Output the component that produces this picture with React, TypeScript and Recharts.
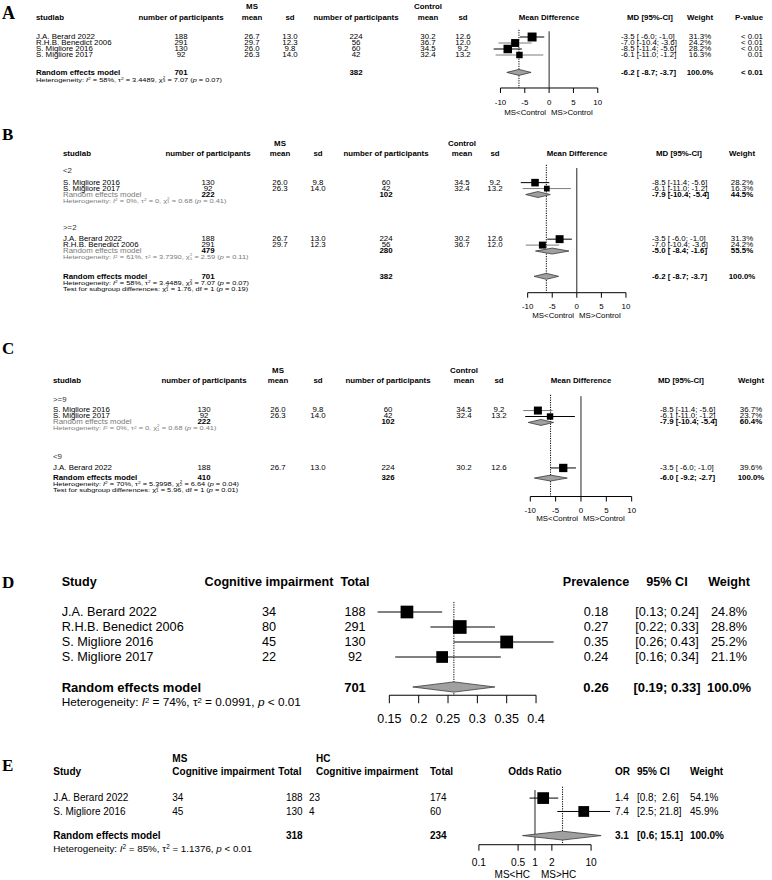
import React from 'react';
import { ScatterChart, Scatter, XAxis, YAxis, ReferenceLine } from 'recharts';

const FONT = '"Liberation Sans", Arial, Helvetica, sans-serif';
const SERIF = '"Liberation Serif", "Times New Roman", serif';

// ---- study data, panels A-C (MS vs control, mean difference) ----
const STUDY = ['J.A. Berard 2022', 'R.H.B. Benedict 2006', 'S. Migliore 2016', 'S. Migliore 2017'];
const MS_N = [188, 291, 130, 92];
const MS_MEAN = [26.7, 29.7, 26.0, 26.3];
const MS_SD = [13.0, 12.3, 9.8, 14.0];
const CTRL_N = [224, 56, 60, 42];
const CTRL_MEAN = [30.2, 36.7, 34.5, 32.4];
const CTRL_SD = [12.6, 12.0, 9.2, 13.2];
const MD = [-3.5, -7.0, -8.5, -6.1];
const MD_LO = [-6.0, -10.4, -11.4, -11.0];
const MD_HI = [-1.0, -3.6, -5.6, -1.2];
const WEIGHT = [31.3, 24.2, 28.2, 16.3];
const PVAL = ['< 0.01', '< 0.01', '< 0.01', '0.01'];
const TICKS_MD = [-10, -5, 0, 5, 10];

// overall pooled A / B
const POOLED_AB = [-6.2, -8.7, -3.7];
const TOTAL_AB = [701, 382];
const POOLED_P = '< 0.01';
const HET_AB = ['58%', '3.4489', '3', '7.07', '0.07'];

// B: subgroups
const GROUPS_B = ['<2', '>=2'];
const MEMBERS_B = [[2, 3], [0, 1]];
const GROUP_MD_B = [[-7.9, -10.4, -5.4], [-5.0, -8.4, -1.6]];
const GROUP_N_B = [[222, 102], [479, 280]];
const GROUP_W_B = [44.5, 55.5];
const GROUP_HET_B = [['0%', '0', '1', '0.68', '0.41'], ['61%', '3.7390', '1', '2.59', '0.11']];
const TEST_B = ['1', '1.76', '1', '0.19'];

// C: subgroups
const GROUPS_C = ['>=9', '<9'];
const MEMBERS_C = [[2, 3], [0]];
const WEIGHT_C = [[36.7, 23.7], [39.6]];
const GROUP_MD_C = [[-7.9, -10.4, -5.4]];
const GROUP_N_C = [[222, 102]];
const GROUP_W_C = [60.4];
const GROUP_HET_C = [['0%', '0', '1', '0.68', '0.41']];
const POOLED_C = [-6.0, -9.2, -2.7];
const TOTAL_C = [410, 326];
const HET_C = ['70%', '5.3998', '2', '6.64', '0.04'];
const TEST_C = ['1', '5.96', '1', '0.01'];

// D: prevalence
const CI_EVENTS = [34, 80, 45, 22];
const CI_TOTAL = [188, 291, 130, 92];
const PREV = [0.18, 0.27, 0.35, 0.24];
const PREV_LO = [0.13, 0.22, 0.26, 0.16];
const PREV_HI = [0.24, 0.33, 0.43, 0.34];
const PREV_W = [24.8, 28.8, 25.2, 21.1];
const PREV_POOLED = [0.26, 0.19, 0.33];
const PREV_TOTAL = 701;
const HET_D = ['74%', '0.0991', '< 0.01'];
const TICKS_PREV = [0.15, 0.2, 0.25, 0.3, 0.35, 0.4];

// E: odds ratio
const OR_STUDY = ['J.A. Berard 2022', 'S. Migliore 2016'];
const OR_MS_EV = [34, 45];
const OR_MS_TOT = [188, 130];
const OR_HC_EV = [23, 4];
const OR_HC_TOT = [174, 60];
const OR_EST = [1.4, 7.4];
const OR_LO = [0.8, 2.5];
const OR_HI = [2.6, 21.8];
const OR_W = [54.1, 45.9];
const OR_POOLED = [3.1, 0.6, 15.1];
const OR_TOTAL = [318, 234];
const HET_E = ['85%', '1.1376', '< 0.01'];
const TICKS_OR = [0.1, 0.5, 1, 2, 10];

// ---- layout ----
const AX_A = { t0: -10, p0: 500, t1: 10, p1: 597.3, domain: [-14, 14], ticks: TICKS_MD };
const AX_B = { t0: -10, p0: 527.7, t1: 10, p1: 626, domain: [-14, 14], ticks: TICKS_MD };
const AX_C = { t0: -10, p0: 530, t1: 10, p1: 631.4, domain: [-14, 14], ticks: TICKS_MD };
const AX_D = { t0: 0.15, p0: 389.3, t1: 0.4, p1: 536, domain: [0.1, 0.47], ticks: TICKS_PREV };
const AX_E = { t0: 0.1, p0: 478.8, t1: 10, p1: 591, log: true, domain: [0.05, 40], ticks: TICKS_OR };

const LAY_A = { y0: 37.3, rh: 6.0, upper: -5.1, head: -3.15, study: 36, msN: 180.5, msMean: 252, msSd: 290, ctN: 355.5, ctMean: 427.5, ctSd: 462.5, ci: 620.7, ciHead: 650, wt: 700, p: 763.3 };
const LAY_B = { y0: 171, rh: 5.95, upper: -4.5, head: -2.8, study: 62.7, msN: 208, msMean: 280, msSd: 317.5, ctN: 386, ctMean: 461.7, ctSd: 495, ci: 651.7, ciHead: 679, wt: 742 };
const LAY_C = { y0: 400, rh: 5.95, upper: -4.9, head: -3.2, study: 53.3, msN: 203.5, msMean: 278.3, msSd: 318.3, ctN: 388, ctMean: 463.5, ctSd: 498.5, ci: 660, ciHead: 681, wt: 750.5 };

// the small tables are drawn a little wider than tall, like the source
const SM = { s: 6.4, sx: 1.23 };
const SMALL = { s: 6.0, sx: 1.23 };
const GRAY = '#7a7a7a';

function px(ax: any, v: number) {
  const t = (u: number) => (ax.log ? Math.log10(u) : u);
  return ax.p0 + ((t(v) - t(ax.t0)) / (t(ax.t1) - t(ax.t0))) * (ax.p1 - ax.p0);
}

function T({ x, y, a = 'start', s = 7, b = false, c = '#000', sx = 1, f = FONT, children }: any) {
  const inner: React.CSSProperties = {
    position: 'absolute', top: 0, whiteSpace: 'pre', lineHeight: 1, fontSize: s,
    fontWeight: b ? 700 : 400, color: c, fontFamily: f,
    transform: a === 'middle' ? 'translate(-50%,-50%)' : 'translateY(-50%)',
  };
  if (a === 'end') inner.right = 0; else inner.left = 0;
  return (
    <div style={{ position: 'absolute', left: x, top: y, width: 0, height: 0, transform: `scaleX(${sx})`, transformOrigin: '0 0' }}>
      <span style={inner}>{children}</span>
    </div>
  );
}

const Sup = ({ children }: any) => (
  <span style={{ fontSize: '0.65em', position: 'relative', top: '-0.45em' }}>{children}</span>
);
const Chi = ({ df }: any) => (
  <>
    χ
    <span style={{ display: 'inline-block', position: 'relative', width: '0.6em', height: 0, fontSize: '0.6em' }}>
      <span style={{ position: 'absolute', left: 0, top: '-1.35em', lineHeight: 1 }}>2</span>
      <span style={{ position: 'absolute', left: 0, top: '-0.45em', lineHeight: 1 }}>{df}</span>
    </span>
  </>
);
const HetMD = ({ v }: any) => (
  <>Heterogeneity: <i>I</i><Sup>2</Sup> = {v[0]}, τ<Sup>2</Sup> = {v[1]}, <Chi df={v[2]} /> = {v[3]} (<i>p</i> = {v[4]})</>
);
const TestSub = ({ v }: any) => (
  <>Test for subgroup differences: <Chi df={v[0]} /> = {v[1]}, df = {v[2]} (<i>p</i> = {v[3]})</>
);
const HetP = ({ v }: any) => (
  <>Heterogeneity: <i>I</i><Sup>2</Sup> = {v[0]}, τ<Sup>2</Sup> = {v[1]}, <i>p</i> {v[2]}</>
);

const f1 = (v: number) => v.toFixed(1);
const mdCI = (m: number, lo: number, hi: number) => `${f1(m)} [${f1(lo).padStart(5)}; ${f1(hi)}]`;
const pct = (w: number) => `${w.toFixed(1)}%`;

function diamond(v: number[], row: number, h: number) {
  return [
    { x: v[1], row },
    { x: v[0], row: row - h },
    { x: v[2], row },
    { x: v[0], row: row + h },
  ];
}

const noShape = () => <g />;

function Forest({ ax, rg, squares, cis, ciColors, diamonds, sq, zero, dot, tk }: any) {
  const left = px(ax, ax.domain[0]);
  const width = px(ax, ax.domain[1]) - left;
  const top = rg.y0 + rg.top * rg.rh;
  const plotH = (rg.axis - rg.top) * rg.rh;
  const AXH = 40;
  const first = ax.ticks[0];
  const last = ax.ticks[ax.ticks.length - 1];

  const renderTick = (p: any) => (
    <g transform={`translate(${p.x},${p.y + tk.gap - tk.size})`}>
      <text transform={`scale(${tk.sx},1)`} textAnchor="middle" dominantBaseline="central" fontSize={tk.font} fontFamily={FONT} fill="#000">
        {String(p.payload.value)}
      </text>
    </g>
  );
  const renderCI = (p: any) => {
    const pts = p.points || [];
    const segs = [];
    for (let k = 0; k + 1 < pts.length; k += 2) {
      segs.push(<line key={k} x1={pts[k].x} y1={pts[k].y} x2={pts[k + 1].x} y2={pts[k + 1].y} stroke={ciColors[k / 2] || '#000'} strokeWidth={1} />);
    }
    return <g>{segs}</g>;
  };
  const renderDia = (p: any) => {
    const pts = p.points || [];
    const polys = [];
    for (let k = 0; k + 3 < pts.length; k += 4) {
      const s = pts.slice(k, k + 4).map((q: any) => `${q.x},${q.y}`).join(' ');
      polys.push(<polygon key={k} points={s} fill="#a0a0a0" stroke="#3a3a3a" strokeWidth={0.8} />);
    }
    return <g>{polys}</g>;
  };
  const renderSquare = (p: any) => {
    const s = sq * Math.sqrt(p.payload.w);
    return <rect x={p.cx - s / 2} y={p.cy - s / 2} width={s} height={s} fill="#000" />;
  };

  return (
    <div style={{ position: 'absolute', left, top }}>
      <ScatterChart width={width} height={plotH + AXH} margin={{ top: 0, right: 0, bottom: 0, left: 0 }}>
        <XAxis
          type="number"
          dataKey="x"
          scale={ax.log ? 'log' : 'linear'}
          domain={ax.domain}
          allowDataOverflow
          ticks={ax.ticks}
          interval={0}
          axisLine={false}
          tickLine={{ stroke: '#000', strokeWidth: 1 }}
          tickSize={tk.size}
          tickMargin={0}
          height={AXH}
          tick={renderTick}
        />
        <YAxis type="number" dataKey="row" domain={[rg.top, rg.axis]} reversed hide allowDataOverflow />
        <ReferenceLine segment={[{ x: first, y: rg.axis }, { x: last, y: rg.axis }]} stroke="#000" strokeWidth={1} ifOverflow="visible" />
        {zero && (
          <ReferenceLine segment={[{ x: zero[0], y: zero[1] }, { x: zero[0], y: rg.axis }]} stroke="#222" strokeWidth={1} ifOverflow="visible" />
        )}
        <ReferenceLine segment={[{ x: dot[0], y: dot[1] }, { x: dot[0], y: rg.axis }]} stroke="#000" strokeWidth={1} strokeDasharray="1.2 1.2" ifOverflow="visible" />
        <Scatter data={cis} line={renderCI} shape={noShape} isAnimationActive={false} />
        <Scatter data={squares} shape={renderSquare} isAnimationActive={false} />
        <Scatter data={diamonds} line={renderDia} shape={noShape} isAnimationActive={false} />
      </ScatterChart>
    </div>
  );
}

// ---- A-C table helpers ----
function mdHeader(L: any, yU: number, yH: number, z: number, withP: boolean) {
  return (
    <>
      <T x={L.msMean} y={yU} a="middle" b {...SM}>MS</T>
      <T x={L.ctMean} y={yU} a="middle" b {...SM}>Control</T>
      <T x={L.study} y={yH} b {...SM}>studlab</T>
      <T x={L.msN} y={yH} a="middle" b {...SM}>number of participants</T>
      <T x={L.msMean} y={yH} a="middle" b {...SM}>mean</T>
      <T x={L.msSd} y={yH} a="middle" b {...SM}>sd</T>
      <T x={L.ctN} y={yH} a="middle" b {...SM}>number of participants</T>
      <T x={L.ctMean} y={yH} a="middle" b {...SM}>mean</T>
      <T x={L.ctSd} y={yH} a="middle" b {...SM}>sd</T>
      <T x={z} y={yH} a="middle" b {...SM}>Mean Difference</T>
      <T x={L.ciHead} y={yH} a="middle" b {...SM}>MD [95%-CI]</T>
      <T x={L.wt} y={yH} a="middle" b {...SM}>Weight</T>
      {withP && <T x={L.p} y={yH} a="end" b {...SM}>P-value</T>}
    </>
  );
}

function mdStudy(L: any, y: number, i: number, w: number, key: string, p?: string) {
  return (
    <React.Fragment key={key}>
      <T x={L.study} y={y} {...SM}>{STUDY[i]}</T>
      <T x={L.msN} y={y} a="middle" {...SM}>{MS_N[i]}</T>
      <T x={L.msMean} y={y} a="middle" {...SM}>{f1(MS_MEAN[i])}</T>
      <T x={L.msSd} y={y} a="middle" {...SM}>{f1(MS_SD[i])}</T>
      <T x={L.ctN} y={y} a="middle" {...SM}>{CTRL_N[i]}</T>
      <T x={L.ctMean} y={y} a="middle" {...SM}>{f1(CTRL_MEAN[i])}</T>
      <T x={L.ctSd} y={y} a="middle" {...SM}>{f1(CTRL_SD[i])}</T>
      <T x={L.ci} y={y} {...SM}>{mdCI(MD[i], MD_LO[i], MD_HI[i])}</T>
      <T x={L.wt} y={y} a="middle" {...SM}>{pct(w)}</T>
      {p && <T x={L.p} y={y} a="end" {...SM}>{p}</T>}
    </React.Fragment>
  );
}

function mdPooled(L: any, y: number, key: string, sub: boolean, n: number[], v: number[], w: number, p?: string) {
  return (
    <React.Fragment key={key}>
      <T x={L.study} y={y} b={!sub} c={sub ? GRAY : '#000'} {...SM}>Random effects model</T>
      <T x={L.msN} y={y} a="middle" b {...SM}>{n[0]}</T>
      <T x={L.ctN} y={y} a="middle" b {...SM}>{n[1]}</T>
      <T x={L.ci} y={y} b {...SM}>{mdCI(v[0], v[1], v[2])}</T>
      <T x={L.wt} y={y} a="middle" b {...SM}>{pct(w)}</T>
      {p && <T x={L.p} y={y} a="end" b {...SM}>{p}</T>}
    </React.Fragment>
  );
}

const TK_SMALL = { size: 5, gap: 14.4, font: 6.6, sx: 1.2 };

function PanelA() {
  const L = LAY_A;
  const y = (r: number) => L.y0 + r * L.rh;
  const z = px(AX_A, 0);
  const ROWS = [0, 1, 2, 3];
  const POOL_ROW = 5.9;
  const rg = { y0: L.y0, rh: L.rh, top: -1.5, axis: 8.5 };
  const squares = STUDY.map((_, i) => ({ x: MD[i], row: ROWS[i], w: WEIGHT[i] }));
  const cis = STUDY.flatMap((_, i) => [{ x: MD_LO[i], row: ROWS[i] }, { x: MD_HI[i], row: ROWS[i] }]);
  const axisY = y(rg.axis);
  return (
    <>
      <T x={2} y={12.5} s={18} b f={SERIF}>A</T>
      {mdHeader(L, y(L.upper), y(L.head), z, true)}
      {STUDY.map((_, i) => mdStudy(L, y(ROWS[i]), i, WEIGHT[i], 'a' + i, PVAL[i]))}
      {mdPooled(L, y(POOL_ROW), 'ap', false, TOTAL_AB, POOLED_AB, 100, POOLED_P)}
      <T x={L.study} y={y(7.05)} {...SMALL}><HetMD v={HET_AB} /></T>
      <Forest
        ax={AX_A} rg={rg} squares={squares} cis={cis} ciColors={['#000', GRAY, '#000', GRAY]}
        diamonds={diamond(POOLED_AB, POOL_ROW, 0.5)} sq={1.6} zero={[0, -0.95]} dot={[POOLED_AB[0], -1.2]} tk={TK_SMALL}
      />
      <T x={z - 3} y={axisY + 25} a="end" {...SM}>MS&lt;Control</T>
      <T x={z + 2} y={axisY + 25} {...SM}>MS&gt;Control</T>
    </>
  );
}

function PanelB() {
  const L = LAY_B;
  const y = (r: number) => L.y0 + r * L.rh;
  const z = px(AX_B, 0);
  const GROUP_ROW = [0, 9.5];
  const ROWS = [[2, 3], [11.5, 12.5]];
  const POOL_ROW = [4, 13.5];
  const HET_ROW = [5, 14.5];
  const ALL_ROW = 17.75;
  const rg = { y0: L.y0, rh: L.rh, top: -1.3, axis: 20.5 };
  const squares = MEMBERS_B.flatMap((m, g) => m.map((i, k) => ({ x: MD[i], row: ROWS[g][k], w: WEIGHT[i] })));
  const cis = MEMBERS_B.flatMap((m, g) => m.flatMap((i, k) => [{ x: MD_LO[i], row: ROWS[g][k] }, { x: MD_HI[i], row: ROWS[g][k] }]));
  const diamonds = [...GROUP_MD_B.flatMap((v, g) => diamond(v, POOL_ROW[g], 0.5)), ...diamond(POOLED_AB, ALL_ROW, 0.5)];
  const axisY = y(rg.axis);
  return (
    <>
      <T x={2} y={133.5} s={17} b f={SERIF}>B</T>
      {mdHeader(L, y(L.upper), y(L.head), z, false)}
      {GROUPS_B.map((gname, g) => (
        <React.Fragment key={'bg' + g}>
          <T x={L.study} y={y(GROUP_ROW[g])} c="#333" {...SM}>{gname}</T>
          {MEMBERS_B[g].map((i, k) => mdStudy(L, y(ROWS[g][k]), i, WEIGHT[i], `b${g}${k}`))}
          {mdPooled(L, y(POOL_ROW[g]), 'bp' + g, true, GROUP_N_B[g], GROUP_MD_B[g], GROUP_W_B[g])}
          <T x={L.study} y={y(HET_ROW[g])} c={GRAY} {...SMALL}><HetMD v={GROUP_HET_B[g]} /></T>
        </React.Fragment>
      ))}
      {mdPooled(L, y(ALL_ROW), 'bpa', false, TOTAL_AB, POOLED_AB, 100)}
      <T x={L.study} y={y(ALL_ROW + 1)} {...SMALL}><HetMD v={HET_AB} /></T>
      <T x={L.study} y={y(ALL_ROW + 2)} {...SMALL}><TestSub v={TEST_B} /></T>
      <Forest
        ax={AX_B} rg={rg} squares={squares} cis={cis} ciColors={['#000', GRAY, '#000', GRAY]}
        diamonds={diamonds} sq={1.42} zero={[0, -0.45]} dot={[POOLED_AB[0], -1.0]} tk={TK_SMALL}
      />
      <T x={z - 3} y={axisY + 23} a="end" {...SM}>MS&lt;Control</T>
      <T x={z + 2} y={axisY + 23} {...SM}>MS&gt;Control</T>
    </>
  );
}

function PanelC() {
  const L = LAY_C;
  const y = (r: number) => L.y0 + r * L.rh;
  const z = px(AX_C, 0);
  const GROUP_ROW = [0, 9.65];
  const ROWS = [[1.75, 2.75], [11.4]];
  const POOL_ROW = [3.75];
  const HET_ROW = [4.75];
  const ALL_ROW = 13.1;
  const rg = { y0: L.y0, rh: L.rh, top: -1.2, axis: 16.2 };
  const squares = MEMBERS_C.flatMap((m, g) => m.map((i, k) => ({ x: MD[i], row: ROWS[g][k], w: WEIGHT_C[g][k] })));
  const cis = MEMBERS_C.flatMap((m, g) => m.flatMap((i, k) => [{ x: MD_LO[i], row: ROWS[g][k] }, { x: MD_HI[i], row: ROWS[g][k] }]));
  const diamonds = [...GROUP_MD_C.flatMap((v, g) => diamond(v, POOL_ROW[g], 0.5)), ...diamond(POOLED_C, ALL_ROW, 0.5)];
  const axisY = y(rg.axis);
  return (
    <>
      <T x={2} y={347.5} s={17} b f={SERIF}>C</T>
      {mdHeader(L, y(L.upper), y(L.head), z, false)}
      {GROUPS_C.map((gname, g) => (
        <React.Fragment key={'cg' + g}>
          <T x={L.study} y={y(GROUP_ROW[g])} c="#333" {...SM}>{gname}</T>
          {MEMBERS_C[g].map((i, k) => mdStudy(L, y(ROWS[g][k]), i, WEIGHT_C[g][k], `c${g}${k}`))}
          {g < GROUP_MD_C.length && mdPooled(L, y(POOL_ROW[g]), 'cp' + g, true, GROUP_N_C[g], GROUP_MD_C[g], GROUP_W_C[g])}
          {g < GROUP_HET_C.length && (
            <T x={L.study} y={y(HET_ROW[g])} c={GRAY} {...SMALL}><HetMD v={GROUP_HET_C[g]} /></T>
          )}
        </React.Fragment>
      ))}
      {mdPooled(L, y(ALL_ROW), 'cpa', false, TOTAL_C, POOLED_C, 100)}
      <T x={L.study} y={y(ALL_ROW + 1)} {...SMALL}><HetMD v={HET_C} /></T>
      <T x={L.study} y={y(ALL_ROW + 2)} {...SMALL}><TestSub v={TEST_C} /></T>
      <Forest
        ax={AX_C} rg={rg} squares={squares} cis={cis} ciColors={[GRAY, '#000', '#000']}
        diamonds={diamonds} sq={1.32} zero={[0, -0.67]} dot={[POOLED_C[0], -0.9]} tk={TK_SMALL}
      />
      <T x={z - 3} y={axisY + 23} a="end" {...SM}>MS&lt;Control</T>
      <T x={z + 2} y={axisY + 23} {...SM}>MS&gt;Control</T>
    </>
  );
}

function PanelD() {
  const L = { y0: 611.7, rh: 15, study: 61.7, ev: 269, tot: 355, prev: 596, ci: 667, wt: 729 };
  const y = (r: number) => L.y0 + r * L.rh;
  const ROWS = [0, 1, 2, 3];
  const POOL_ROW = 5;
  const rg = { y0: L.y0, rh: L.rh, top: -1, axis: 5.55 };
  const squares = STUDY.map((_, i) => ({ x: PREV[i], row: ROWS[i], w: PREV_W[i] }));
  const cis = STUDY.flatMap((_, i) => [{ x: PREV_LO[i], row: ROWS[i] }, { x: PREV_HI[i], row: ROWS[i] }]);
  const H = 12.6;
  const R = 12.7;
  return (
    <>
      <T x={2} y={581.7} s={17} b f={SERIF}>D</T>
      <T x={L.study} y={y(-2)} s={H} b>Study</T>
      <T x={L.ev} y={y(-2)} s={H} b a="middle">Cognitive impairment</T>
      <T x={L.tot} y={y(-2)} s={H} b a="middle">Total</T>
      <T x={L.prev} y={y(-2)} s={H} b a="middle">Prevalence</T>
      <T x={L.ci} y={y(-2)} s={H} b a="middle">95% CI</T>
      <T x={L.wt} y={y(-2)} s={H} b a="middle">Weight</T>
      {STUDY.map((name, i) => (
        <React.Fragment key={'d' + i}>
          <T x={L.study} y={y(ROWS[i])} s={R}>{name}</T>
          <T x={L.ev} y={y(ROWS[i])} s={R} a="middle">{CI_EVENTS[i]}</T>
          <T x={L.tot} y={y(ROWS[i])} s={R} a="middle">{CI_TOTAL[i]}</T>
          <T x={L.prev} y={y(ROWS[i])} s={R} a="middle">{PREV[i].toFixed(2)}</T>
          <T x={L.ci} y={y(ROWS[i])} s={R} a="middle">{`[${PREV_LO[i].toFixed(2)}; ${PREV_HI[i].toFixed(2)}]`}</T>
          <T x={L.wt} y={y(ROWS[i])} s={R} a="middle">{pct(PREV_W[i])}</T>
        </React.Fragment>
      ))}
      <T x={L.study} y={y(POOL_ROW)} s={13} b>Random effects model</T>
      <T x={L.tot} y={y(POOL_ROW)} s={13} b a="middle">{PREV_TOTAL}</T>
      <T x={L.prev} y={y(POOL_ROW)} s={13} b a="middle">{PREV_POOLED[0].toFixed(2)}</T>
      <T x={L.ci} y={y(POOL_ROW)} s={13} b a="middle">{`[${PREV_POOLED[1].toFixed(2)}; ${PREV_POOLED[2].toFixed(2)}]`}</T>
      <T x={L.wt} y={y(POOL_ROW)} s={13} b a="middle">{pct(100)}</T>
      <T x={L.study} y={y(6.1)} s={11.8}><HetP v={HET_D} /></T>
      <Forest
        ax={AX_D} rg={rg} squares={squares} cis={cis} ciColors={['#000', '#000', '#000', '#000']}
        diamonds={diamond(PREV_POOLED, POOL_ROW, 0.34)} sq={2.55} dot={[PREV_POOLED[0], -0.67]}
        tk={{ size: 8, gap: 23.3, font: 12.5, sx: 1 }}
      />
    </>
  );
}

function PanelE() {
  const L = { y0: 798.3, rh: 13.4, study: 53.3, msEv: 172.3, msTotH: 278.3, msTot: 286, hcEvH: 316, hcEv: 309, hcTot: 430, or: 615, ci: 637, wt: 690 };
  const y = (r: number) => L.y0 + r * L.rh;
  const ROWS = [0, 1];
  const POOL_ROW = 2.8;
  const rg = { y0: L.y0, rh: L.rh, top: -1.2, axis: 3.48 };
  const squares = OR_STUDY.map((_, i) => ({ x: OR_EST[i], row: ROWS[i], w: OR_W[i] }));
  const cis = OR_STUDY.flatMap((_, i) => [{ x: OR_LO[i], row: ROWS[i] }, { x: OR_HI[i], row: ROWS[i] }]);
  const S = 10;
  const z = px(AX_E, 1);
  const axisY = y(rg.axis);
  const orCI = (lo: number, hi: number) => `[${lo.toFixed(1)}; ${hi.toFixed(1).padStart(4)}]`;
  return (
    <>
      <T x={2} y={765} s={17} b f={SERIF}>E</T>
      <T x={L.msEv} y={759} s={S} b>MS</T>
      <T x={L.hcEvH} y={759} s={S} b>HC</T>
      <T x={L.study} y={771.7} s={S} b>Study</T>
      <T x={L.msEv} y={771.7} s={S} b>Cognitive impairment</T>
      <T x={L.msTotH} y={771.7} s={S} b>Total</T>
      <T x={L.hcEvH} y={771.7} s={S} b>Cognitive impairment</T>
      <T x={L.hcTot} y={771.7} s={S} b>Total</T>
      <T x={z} y={771.7} s={S} b a="middle">Odds Ratio</T>
      <T x={L.or} y={771.7} s={S} b>OR</T>
      <T x={L.ci} y={771.7} s={S} b>95% CI</T>
      <T x={L.wt} y={771.7} s={S} b>Weight</T>
      {OR_STUDY.map((name, i) => (
        <React.Fragment key={'e' + i}>
          <T x={L.study} y={y(ROWS[i])} s={S}>{name}</T>
          <T x={L.msEv} y={y(ROWS[i])} s={S}>{OR_MS_EV[i]}</T>
          <T x={L.msTot} y={y(ROWS[i])} s={S}>{OR_MS_TOT[i]}</T>
          <T x={L.hcEv} y={y(ROWS[i])} s={S}>{OR_HC_EV[i]}</T>
          <T x={L.hcTot} y={y(ROWS[i])} s={S}>{OR_HC_TOT[i]}</T>
          <T x={L.or} y={y(ROWS[i])} s={S}>{OR_EST[i].toFixed(1)}</T>
          <T x={L.ci} y={y(ROWS[i])} s={S}>{orCI(OR_LO[i], OR_HI[i])}</T>
          <T x={L.wt} y={y(ROWS[i])} s={S}>{pct(OR_W[i])}</T>
        </React.Fragment>
      ))}
      <T x={L.study} y={y(POOL_ROW)} s={S} b>Random effects model</T>
      <T x={L.msTot} y={y(POOL_ROW)} s={S} b>{OR_TOTAL[0]}</T>
      <T x={L.hcTot} y={y(POOL_ROW)} s={S} b>{OR_TOTAL[1]}</T>
      <T x={L.or} y={y(POOL_ROW)} s={S} b>{OR_POOLED[0].toFixed(1)}</T>
      <T x={L.ci} y={y(POOL_ROW)} s={S} b>{orCI(OR_POOLED[1], OR_POOLED[2])}</T>
      <T x={L.wt} y={y(POOL_ROW)} s={S} b>{pct(100)}</T>
      <T x={L.study} y={y(3.75)} s={9.8}><HetP v={HET_E} /></T>
      <Forest
        ax={AX_E} rg={rg} squares={squares} cis={cis} ciColors={['#000', '#000']}
        diamonds={diamond(OR_POOLED, POOL_ROW, 0.33)} sq={1.59} zero={[1, -0.6]} dot={[OR_POOLED[0], -0.85]}
        tk={{ size: 6, gap: 18, font: 10.2, sx: 1 }}
      />
      <T x={z - 5} y={axisY + 30} s={S} a="end">MS&lt;HC</T>
      <T x={z + 6} y={axisY + 30} s={S}>MS&gt;HC</T>
    </>
  );
}

export default function App() {
  return (
    <div style={{ position: 'absolute', left: 0, top: 0, width: 772, height: 880, background: '#fff', overflow: 'hidden', fontFamily: FONT, color: '#000' }}>
      <PanelA />
      <PanelB />
      <PanelC />
      <PanelD />
      <PanelE />
    </div>
  );
}
